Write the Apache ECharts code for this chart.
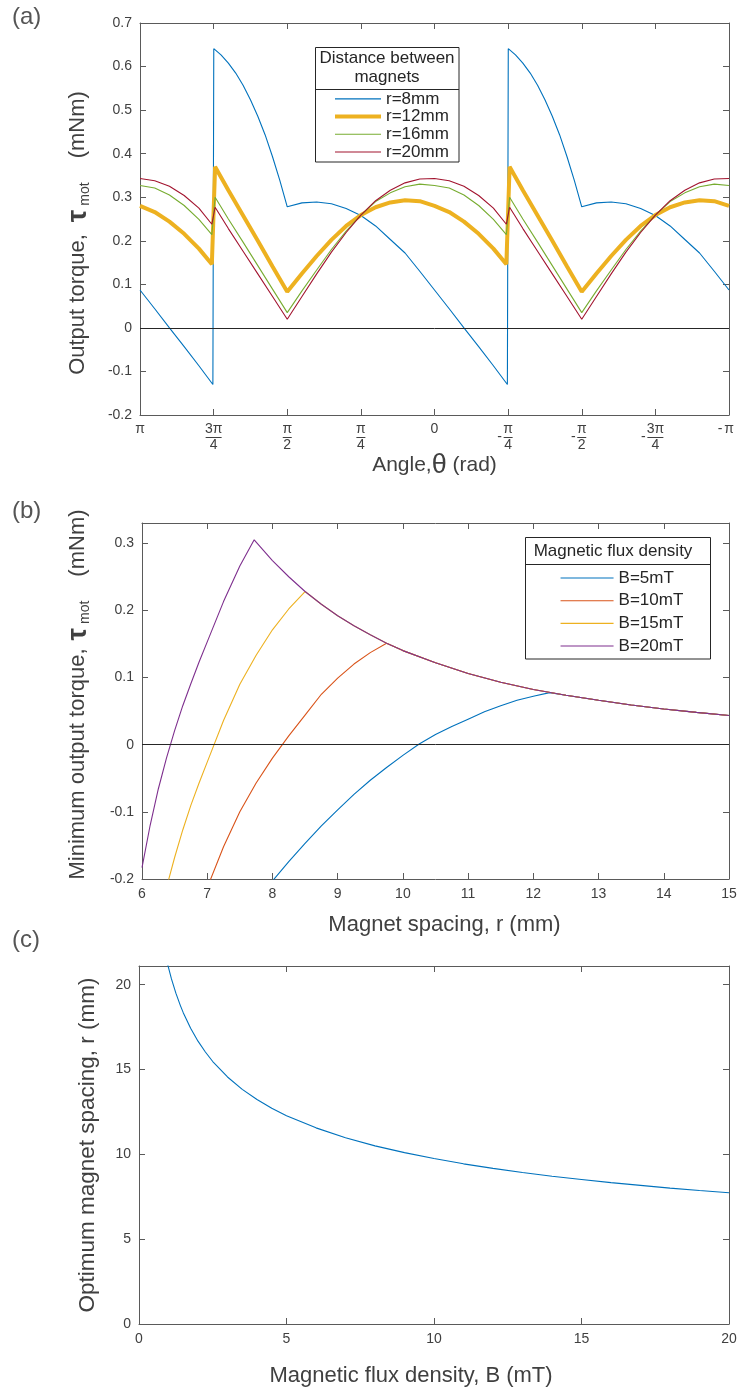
<!DOCTYPE html>
<html><head><meta charset="utf-8">
<script src="https://cdn.jsdelivr.net/npm/echarts@6/dist/echarts.min.js"></script>
<style>html,body{margin:0;padding:0;background:#fff}#c{width:739px;height:1394px}</style>
</head><body><div id="c"></div>
<script>
const FONT = 'Liberation Sans, Arial, Helvetica, sans-serif';
const AXC = '#5a5a5a', TXT = '#404040';

// ---------- (a) Output torque vs angle (angle in units of pi) ----------
const angleA = [1, 0.95, 0.9, 0.85, 0.8, 0.756, 0.745, 0.7, 0.65, 0.6, 0.55, 0.5, 0.45, 0.4, 0.35, 0.3, 0.25, 0.2, 0.15, 0.1, 0.05, 0,
  -0.05, -0.1, -0.15, -0.2, -0.244, -0.255, -0.3, -0.35, -0.4, -0.45, -0.5, -0.55, -0.6, -0.65, -0.7, -0.75, -0.8, -0.85, -0.9, -0.95, -1];
const angleA8 = [1, 0.95, 0.9, 0.85, 0.8, 0.7525, 0.7495, 0.725, 0.7, 0.675, 0.65, 0.625, 0.6, 0.575, 0.55, 0.525, 0.5, 0.45, 0.4, 0.35, 0.3, 0.25, 0.2, 0.15, 0.1, 0.05, 0,
  -0.05, -0.1, -0.15, -0.2, -0.2475, -0.2505, -0.275, -0.3, -0.325, -0.35, -0.375, -0.4, -0.425, -0.45, -0.475, -0.5, -0.55, -0.6, -0.65, -0.7, -0.75, -0.8, -0.85, -0.9, -0.95, -1];
const torqueR8 = [0.087, 0.044, 0.000, -0.043, -0.087, -0.130, 0.641, 0.627, 0.608, 0.585, 0.557, 0.524, 0.486, 0.443, 0.393, 0.338, 0.278, 0.287, 0.289, 0.285, 0.274, 0.258, 0.234, 0.203, 0.172, 0.130, 0.087,
  0.044, 0.000, -0.043, -0.087, -0.130, 0.641, 0.627, 0.608, 0.585, 0.557, 0.524, 0.486, 0.443, 0.393, 0.338, 0.278, 0.287, 0.289, 0.285, 0.274, 0.258, 0.234, 0.203, 0.172, 0.130, 0.087];
const torqueR12 = [0.280, 0.266, 0.244, 0.216, 0.182, 0.146, 0.370, 0.316, 0.258, 0.200, 0.141, 0.083, 0.125, 0.165, 0.202, 0.234, 0.259, 0.277, 0.288, 0.293, 0.291, 0.280,
  0.266, 0.244, 0.216, 0.182, 0.146, 0.370, 0.316, 0.258, 0.200, 0.141, 0.083, 0.125, 0.165, 0.202, 0.234, 0.259, 0.277, 0.288, 0.293, 0.291, 0.280];
const torqueR16 = [0.327, 0.321, 0.305, 0.281, 0.249, 0.214, 0.300, 0.250, 0.197, 0.143, 0.089, 0.035, 0.085, 0.133, 0.180, 0.222, 0.259, 0.290, 0.310, 0.324, 0.330, 0.327,
  0.321, 0.305, 0.281, 0.249, 0.214, 0.300, 0.250, 0.197, 0.143, 0.089, 0.035, 0.085, 0.133, 0.180, 0.222, 0.259, 0.290, 0.310, 0.324, 0.330, 0.327];
const torqueR20 = [0.343, 0.338, 0.325, 0.304, 0.275, 0.238, 0.277, 0.228, 0.176, 0.124, 0.072, 0.020, 0.072, 0.124, 0.174, 0.219, 0.259, 0.292, 0.316, 0.333, 0.342, 0.343,
  0.338, 0.325, 0.304, 0.275, 0.238, 0.277, 0.228, 0.176, 0.124, 0.072, 0.020, 0.072, 0.124, 0.174, 0.219, 0.259, 0.292, 0.316, 0.333, 0.342, 0.343];
const legendA = ['r=8mm', 'r=12mm', 'r=16mm', 'r=20mm'];

// ---------- (b) Minimum output torque vs magnet spacing ----------
const spacingB5 = [8.0, 8.25, 8.5, 8.75, 9.0, 9.25, 9.5, 9.75, 10.0, 10.25, 10.5, 10.75, 11.0, 11.25, 11.5, 11.75, 12.0, 12.25, 12.5, 13, 13.5, 14, 14.5, 15];
const minTorqueB5 = [-0.203, -0.174, -0.147, -0.121, -0.097, -0.074, -0.053, -0.034, -0.016, 0.001, 0.015, 0.027, 0.038, 0.049, 0.058, 0.066, 0.072, 0.0775, 0.0735, 0.066, 0.059, 0.053, 0.048, 0.0435];
const spacingB10 = [7.0, 7.25, 7.5, 7.75, 8.0, 8.25, 8.5, 8.75, 9.0, 9.25, 9.5, 9.75, 10, 10.5, 11, 11.5, 12, 12.5, 13, 13.5, 14, 14.5, 15];
const minTorqueB10 = [-0.213, -0.152, -0.100, -0.057, -0.020, 0.013, 0.044, 0.075, 0.099, 0.120, 0.137, 0.151, 0.140, 0.122, 0.106, 0.093, 0.082, 0.0735, 0.066, 0.059, 0.053, 0.048, 0.0435];
const spacingB15 = [6.4, 6.5, 6.625, 6.75, 6.875, 7.0, 7.25, 7.5, 7.75, 8.0, 8.25, 8.5, 8.75, 9.0, 9.25, 9.5, 9.75, 10, 10.5, 11, 11.5, 12, 12.5, 13, 13.5, 14, 14.5, 15];
const minTorqueB15 = [-0.204, -0.168, -0.127, -0.090, -0.057, -0.026, 0.036, 0.090, 0.133, 0.171, 0.202, 0.228, 0.209, 0.192, 0.177, 0.1635, 0.151, 0.140, 0.122, 0.106, 0.093, 0.082, 0.0735, 0.066, 0.059, 0.053, 0.048, 0.0435];
const spacingB20 = [6.0, 6.125, 6.25, 6.375, 6.5, 6.625, 6.75, 6.875, 7.0, 7.25, 7.5, 7.72, 8.0, 8.25, 8.5, 8.75, 9.0, 9.25, 9.5, 9.75, 10, 10.5, 11, 11.5, 12, 12.5, 13, 13.5, 14, 14.5, 15];
const minTorqueB20 = [-0.183, -0.120, -0.066, -0.020, 0.021, 0.058, 0.091, 0.123, 0.153, 0.213, 0.266, 0.305, 0.274, 0.250, 0.228, 0.209, 0.192, 0.177, 0.1635, 0.151, 0.140, 0.122, 0.106, 0.093, 0.082, 0.0735, 0.066, 0.059, 0.053, 0.048, 0.0435];
const legendB = ['B=5mT', 'B=10mT', 'B=15mT', 'B=20mT'];

// ---------- (c) Optimum magnet spacing vs flux density ----------
const fluxDensity = [0.95, 1, 1.1, 1.25, 1.4, 1.5, 1.75, 2, 2.25, 2.5, 3, 3.5, 4, 4.5, 5, 6, 7, 8, 9, 10, 11, 12, 13, 14, 15, 16, 17, 18, 19, 20];
const optSpacing = [21.35, 21.0, 20.34, 19.50, 18.78, 18.35, 17.43, 16.67, 16.03, 15.47, 14.56, 13.83, 13.23, 12.72, 12.28, 11.56, 10.98, 10.50, 10.10, 9.75, 9.44, 9.17, 8.93, 8.71, 8.52, 8.33, 8.17, 8.01, 7.87, 7.74];

const zip = (xs, ys) => xs.map((x, i) => [x, ys[i]]);

function fracLabel(v) {
  const k = Math.round(v * 4);
  switch (k) {
    case 4: return '{n|π}';
    case 3: return '{n|3π}\n{b2| }\n{n|4}';
    case 2: return '{n|π}\n{b1| }\n{n|2}';
    case 1: return '{n|π}\n{b1| }\n{n|4}';
    case 0: return '{n|0}';
    case -1: return '{s| }{n|π}{s| }\n{m|-}{b1| }{s| }\n{s| }{n|4}{s| }';
    case -2: return '{s| }{n|π}{s| }\n{m|-}{b1| }{s| }\n{s| }{n|2}{s| }';
    case -3: return '{s| }{n|3π}{s| }\n{m|-}{b2| }{s| }\n{s| }{n|4}{s| }';
    case -4: return '{m|-}{n|π}{s| }';
  }
  return '';
}
const fracRich = {
  n: {fontSize: 14, lineHeight: 13, color: TXT, fontFamily: FONT, align: 'center'},
  m: {fontSize: 14, lineHeight: 3, width: 8, color: TXT, fontFamily: FONT, align: 'center'},
  s: {fontSize: 14, lineHeight: 3, width: 8, align: 'center'},
  b1: {width: 9, height: 1, lineHeight: 3, backgroundColor: TXT, align: 'center', fontSize: 1},
  b2: {width: 16, height: 1, lineHeight: 3, backgroundColor: TXT, align: 'center', fontSize: 1}
};
const decFmt = v => { const r = Math.round(v * 10) / 10; return r === 0 ? '0' : String(r); };

function baseAxis(gridIndex, extra) {
  return Object.assign({
    type: 'value', gridIndex,
    axisLine: {show: true, onZero: false, lineStyle: {color: AXC, width: 1}},
    axisTick: {show: true, inside: true, length: 6, lineStyle: {color: AXC, width: 1}},
    axisLabel: {show: true, color: TXT, fontSize: 14, fontFamily: FONT},
    splitLine: {show: false},
    nameMoveOverlap: false
  }, extra);
}
const nameStyle = (extra) => Object.assign({color: TXT, fontSize: 22, fontFamily: FONT}, extra);
const tauRich = (padTau) => ({
  tau: {fontSize: 28, fontWeight: 'bold', color: TXT, fontFamily: FONT, lineHeight: 28, padding: padTau},
  sub: {fontSize: 14, color: TXT, fontFamily: FONT, verticalAlign: 'bottom', lineHeight: 16},
  g: {fontSize: 22, color: TXT, fontFamily: FONT, padding: [0, 0, 0, 24]}
});

const option = {
  animation: false,
  backgroundColor: '#fff',
  textStyle: {fontFamily: FONT},
  grid: [
    {left: 140, top: 23, width: 589, height: 392, outerBoundsMode: 'none'},
    {left: 142, top: 523, width: 587, height: 356, outerBoundsMode: 'none'},
    {left: 139, top: 966, width: 590, height: 358, outerBoundsMode: 'none'}
  ],
  xAxis: [
    baseAxis(0, {min: -1, max: 1, interval: 0.25, inverse: true, position: 'bottom',
      axisLabel: {show: true, formatter: fracLabel, rich: fracRich, margin: 8, color: TXT, fontSize: 14, fontFamily: FONT},
      name: 'Angle,{th|θ} (rad)', nameLocation: 'middle', nameGap: 37,
      nameTextStyle: nameStyle({fontSize: 21, rich: {th: {fontSize: 27, color: TXT, fontFamily: FONT}}})}),
    baseAxis(0, {min: -1, max: 1, interval: 0.25, inverse: true, position: 'top', axisLabel: {show: false}}),
    baseAxis(1, {min: 6, max: 15, interval: 1, position: 'bottom',
      name: 'Magnet spacing, r (mm)', nameLocation: 'middle', nameGap: 35, nameTextStyle: nameStyle({padding: [0, 0, 0, 18]})}),
    baseAxis(1, {min: 6, max: 15, interval: 1, position: 'top', axisLabel: {show: false}}),
    baseAxis(2, {min: 0, max: 20, interval: 5, position: 'bottom',
      name: 'Magnetic flux density, B (mT)', nameLocation: 'middle', nameGap: 41, nameTextStyle: nameStyle({padding: [0, 46, 0, 0]})}),
    baseAxis(2, {min: 0, max: 20, interval: 5, position: 'top', axisLabel: {show: false}})
  ],
  yAxis: [
    baseAxis(0, {min: -0.2, max: 0.7, interval: 0.1, position: 'left',
      axisLabel: {show: true, formatter: decFmt, color: TXT, fontSize: 14, fontFamily: FONT, margin: 8},
      name: 'Output torque,{tau|τ}{sub|mot}{g|(mNm)}', nameLocation: 'middle', nameRotate: 90, nameGap: 48,
      nameTextStyle: nameStyle({rich: tauRich([0, 4, 0, 12]), padding: [0, 28, 0, 0]})}),
    baseAxis(0, {min: -0.2, max: 0.7, interval: 0.1, position: 'right', axisLabel: {show: false}}),
    baseAxis(1, {min: -0.2, max: 0.33, interval: 0.1, position: 'left',
      axisLabel: {show: true, formatter: decFmt, color: TXT, fontSize: 14, fontFamily: FONT, margin: 8, showMaxLabel: false},
      name: 'Minimum output torque,{tau|τ}{sub|mot}{g|(mNm)}', nameLocation: 'middle', nameRotate: 90, nameGap: 50,
      nameTextStyle: nameStyle({rich: tauRich([0, 4, 0, 8]), padding: [0, 0, 0, 13]})}),
    baseAxis(1, {min: -0.2, max: 0.33, interval: 0.1, position: 'right', axisLabel: {show: false}}),
    baseAxis(2, {min: 0, max: 21.1, interval: 5, position: 'left',
      axisLabel: {show: true, color: TXT, fontSize: 14, fontFamily: FONT, margin: 8, showMaxLabel: false},
      name: 'Optimum magnet spacing, r (mm)', nameLocation: 'middle', nameRotate: 90, nameGap: 40,
      nameTextStyle: nameStyle({fontSize: 22.5})}),
    baseAxis(2, {min: 0, max: 21.1, interval: 5, position: 'right', axisLabel: {show: false}})
  ],
  legend: [
    {data: legendA, orient: 'vertical', left: 333, top: 90, itemWidth: 46, itemHeight: 12, itemGap: 0, padding: 0,
      selectedMode: false, z: 10,
      lineStyle: {width: 'inherit'}, itemStyle: {opacity: 0},
      textStyle: {fontSize: 17, color: '#262626', fontFamily: FONT, lineHeight: 17.7}},
    {data: legendB, orient: 'vertical', left: 560, top: 566.7, itemWidth: 53, itemHeight: 12, itemGap: 0, padding: 0,
      selectedMode: false, z: 10,
      lineStyle: {width: 'inherit'}, itemStyle: {opacity: 0},
      textStyle: {fontSize: 17, color: '#262626', fontFamily: FONT, lineHeight: 22.67}}
  ],
  graphic: {elements: [
    {type: 'text', left: 12, top: 5, style: {text: '(a)', fontSize: 24, fill: '#555', fontFamily: FONT}},
    {type: 'text', left: 12, top: 499, style: {text: '(b)', fontSize: 24, fill: '#555', fontFamily: FONT}},
    {type: 'text', left: 12, top: 928, style: {text: '(c)', fontSize: 24, fill: '#555', fontFamily: FONT}},
    {type: 'rect', z: 5, shape: {x: 315.5, y: 47.5, width: 143.5, height: 114.5}, style: {fill: '#fff', stroke: '#262626', lineWidth: 1}},
    {type: 'line', z: 6, shape: {x1: 315.5, y1: 89.5, x2: 459, y2: 89.5}, style: {stroke: '#262626', lineWidth: 1}},
    {type: 'text', z: 6, x: 387, y: 58.5, style: {text: 'Distance between', fontSize: 17, fill: '#262626', fontFamily: FONT, align: 'center', verticalAlign: 'middle'}},
    {type: 'text', z: 6, x: 387, y: 77.5, style: {text: 'magnets', fontSize: 17, fill: '#262626', fontFamily: FONT, align: 'center', verticalAlign: 'middle'}},
    {type: 'rect', z: 5, shape: {x: 525.5, y: 537.5, width: 185, height: 121.5}, style: {fill: '#fff', stroke: '#262626', lineWidth: 1}},
    {type: 'line', z: 6, shape: {x1: 525.5, y1: 564.5, x2: 710.5, y2: 564.5}, style: {stroke: '#262626', lineWidth: 1}},
    {type: 'text', z: 6, x: 613, y: 551.5, style: {text: 'Magnetic flux density', fontSize: 17, fill: '#262626', fontFamily: FONT, align: 'center', verticalAlign: 'middle'}}
  ]},
  series: [
    {name: 'r=8mm', type: 'line', xAxisIndex: 0, yAxisIndex: 0, data: zip(angleA8, torqueR8), symbol: 'none', clip: true,
      lineStyle: {color: '#0072BD', width: 1.1}, itemStyle: {color: '#0072BD'},
      markLine: {silent: true, symbol: ['none', 'none'], label: {show: false}, lineStyle: {color: '#262626', width: 1, type: 'solid'}, data: [{yAxis: 0}]}},
    {name: 'r=12mm', type: 'line', xAxisIndex: 0, yAxisIndex: 0, data: zip(angleA, torqueR12), symbol: 'none', clip: true,
      lineStyle: {color: '#EDB120', width: 4}, itemStyle: {color: '#EDB120'}},
    {name: 'r=16mm', type: 'line', xAxisIndex: 0, yAxisIndex: 0, data: zip(angleA, torqueR16), symbol: 'none', clip: true,
      lineStyle: {color: '#77AC30', width: 1.1}, itemStyle: {color: '#77AC30'}},
    {name: 'r=20mm', type: 'line', xAxisIndex: 0, yAxisIndex: 0, data: zip(angleA, torqueR20), symbol: 'none', clip: true,
      lineStyle: {color: '#A2142F', width: 1.1}, itemStyle: {color: '#A2142F'}},

    {name: 'B=5mT', type: 'line', xAxisIndex: 2, yAxisIndex: 2, data: zip(spacingB5, minTorqueB5), symbol: 'none', clip: true,
      lineStyle: {color: '#0072BD', width: 1.1}, itemStyle: {color: '#0072BD'},
      markLine: {silent: true, symbol: ['none', 'none'], label: {show: false}, lineStyle: {color: '#262626', width: 1, type: 'solid'}, data: [{yAxis: 0}]}},
    {name: 'B=10mT', type: 'line', xAxisIndex: 2, yAxisIndex: 2, data: zip(spacingB10, minTorqueB10), symbol: 'none', clip: true,
      lineStyle: {color: '#D95319', width: 1.1}, itemStyle: {color: '#D95319'}},
    {name: 'B=15mT', type: 'line', xAxisIndex: 2, yAxisIndex: 2, data: zip(spacingB15, minTorqueB15), symbol: 'none', clip: true,
      lineStyle: {color: '#EDB120', width: 1.1}, itemStyle: {color: '#EDB120'}},
    {name: 'B=20mT', type: 'line', xAxisIndex: 2, yAxisIndex: 2, data: zip(spacingB20, minTorqueB20), symbol: 'none', clip: true,
      lineStyle: {color: '#7E2F8E', width: 1.1}, itemStyle: {color: '#7E2F8E'}},

    {name: 'optimum', type: 'line', xAxisIndex: 4, yAxisIndex: 4, data: zip(fluxDensity, optSpacing), symbol: 'none', clip: true,
      lineStyle: {color: '#0072BD', width: 1.1}, itemStyle: {color: '#0072BD'}}
  ]
};
const chart = echarts.init(document.getElementById('c'), null, {renderer: 'canvas'});
chart.setOption(option);
</script></body></html>
